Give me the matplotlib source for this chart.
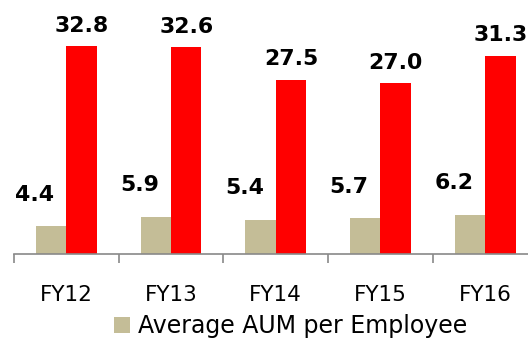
import numpy as np
import matplotlib
matplotlib.use("Agg")
import matplotlib.pyplot as plt
from matplotlib.patches import Patch

plt.rcParams["font.family"] = ["DejaVu Sans"]

years = ["FY12", "FY13", "FY14", "FY15", "FY16"]
aum_per_employee = [4.4, 5.9, 5.4, 5.7, 6.2]
aum_per_branch = [32.8, 32.6, 27.5, 27.0, 31.3]

TAN = "#C4BD97"
RED = "#FF0000"
W, H = 528, 342

fig = plt.figure(figsize=(W / 100, H / 100), dpi=100)
ax = fig.add_axes([14 / W, 88 / H, 523.5 / W, 254 / H])

x = np.arange(len(years))
bw = 0.29
ax.bar(x - bw / 2, aum_per_employee, bw, color=TAN, zorder=2)
ax.bar(x + bw / 2, aum_per_branch, bw, color=RED, zorder=2)

# value labels: the small series sits up and to the left of its bar
for xi, v in zip(x, aum_per_employee):
    ax.annotate(f"{v:.1f}", xy=(xi - bw / 2, v), xytext=(-11.7, 18.2),
                textcoords="offset points", ha="center", va="baseline",
                fontsize=15.8, fontweight="bold")
for xi, v in zip(x, aum_per_branch):
    ax.annotate(f"{v:.1f}", xy=(xi + bw / 2, v), xytext=(0, 10.3),
                textcoords="offset points", ha="center", va="baseline",
                fontsize=15.8, fontweight="bold")

ax.set_xlim(-0.5, len(years) - 0.5)
ax.set_ylim(0, 254 / 6.34)

for s in ["left", "right", "top"]:
    ax.spines[s].set_visible(False)
ax.spines["bottom"].set_color("#898989")
ax.spines["bottom"].set_linewidth(1.2)

ax.set_yticks([])
ax.set_xticks(x)
ax.set_xticklabels(years, fontsize=15.5)
ax.tick_params(axis="x", which="major", length=0, pad=22)
ax.set_xticks(np.arange(-0.5, len(years), 1.0), minor=True)
ax.tick_params(axis="x", which="minor", length=6.5, width=1.2, color="#898989")

fig.legend(handles=[Patch(facecolor=TAN, edgecolor="none")],
           labels=["Average AUM per Employee"],
           loc="center left", bbox_to_anchor=(114 / W, 1 - 326 / H),
           frameon=False, fontsize=17, handlelength=0.68, handleheight=0.68,
           handletextpad=0.34, borderpad=0, borderaxespad=0)

fig.savefig("out.png", dpi=100)
